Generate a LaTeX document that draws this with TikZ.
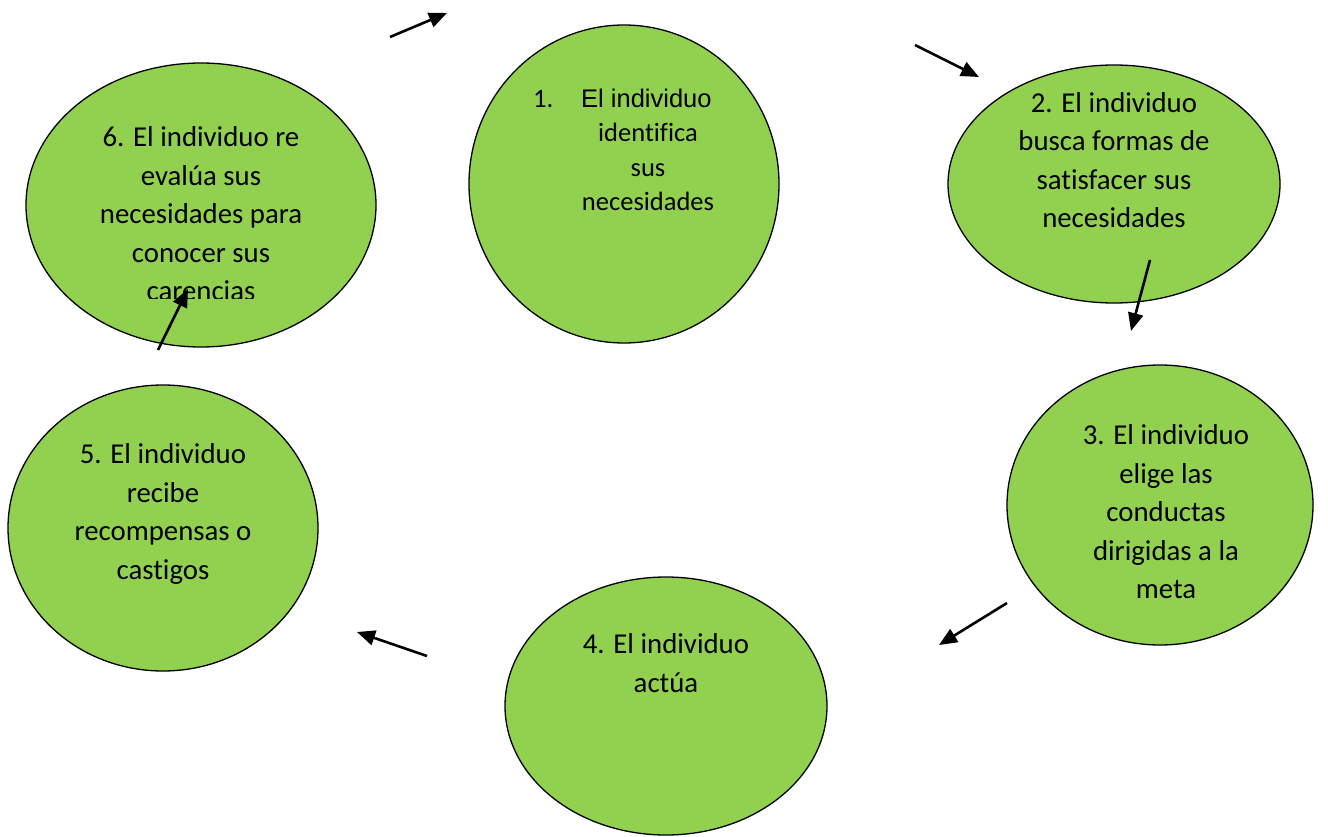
\documentclass[tikz,border=0pt]{standalone}
\usepackage{fontspec}
\setmainfont[RawFeature=-liga]{Carlito}
\newfontfamily\arialfont{Liberation Sans}
\usetikzlibrary{arrows.meta}
\definecolor{lgreen}{HTML}{92D050}
\begin{document}
\begin{tikzpicture}[x=1pt,y=-1pt,
  bubble/.style={draw=black,line width=1.3pt,fill=lgreen},
  txt/.style={align=center,font=\fontsize{28.8}{38.5}\selectfont,inner sep=0pt},
  txtsmall/.style={align=center,font=\fontsize{26.5}{34.5}\selectfont,inner sep=0pt},
  arr/.style={line width=2.6pt,-{Triangle[length=18pt,width=15pt]}}]
\useasboundingbox (0,0) rectangle (1328,837);
% ellipses
\draw[bubble] (624,184) ellipse [x radius=155,y radius=159];
\draw[bubble] (1114,184) ellipse [x radius=166,y radius=119];
\draw[bubble] (1160,505) ellipse [x radius=153,y radius=140];
\draw[bubble] (666,706) ellipse [x radius=161,y radius=129];
\draw[bubble] (163,528) ellipse [x radius=155,y radius=143];
\draw[bubble] (201,205) ellipse [x radius=175,y radius=142];
% texts
\node[font=\fontsize{26.5}{30}\selectfont,anchor=base west,inner sep=0pt] (t1n) at (533,108) {1.};
\node[font=\arialfont\fontsize{25.5}{30}\selectfont,anchor=base west,inner sep=0pt] (t1a) at (581,108) {El individuo};
\node[txtsmall] (t1) at (648,167) {identifica\\sus\\necesidades};
\node[txt] (t2) at (1114,160) {2. El individuo\\busca formas de\\satisfacer sus\\necesidades};
\node[txt] (t3) at (1166,512) {3. El individuo\\elige las\\conductas\\dirigidas a la\\meta};
\node[txt] (t4) at (666,663) {4. El individuo\\actúa};
\node[txt] (t5) at (163,514) {5. El individuo\\recibe\\recompensas o\\castigos};
\begin{scope}
\clip (0,0) rectangle (1328,298);
\node[txt] (t6) at (201,214) {6. El individuo re\\evalúa sus\\necesidades para\\conocer sus\\carencias};
\end{scope}
% arrows
\coordinate (a1s) at (390,37); \coordinate (a1e) at (447,13);
\coordinate (a2s) at (915,45); \coordinate (a2e) at (979,77);
\coordinate (a3s) at (1150,260); \coordinate (a3e) at (1131,331);
\coordinate (a4s) at (1007,603); \coordinate (a4e) at (939,645);
\coordinate (a5s) at (427,656); \coordinate (a5e) at (357,632);
\coordinate (a6s) at (158,350); \coordinate (a6e) at (188,289);
\draw[arr] (a1s) -- (a1e);
\draw[arr] (a2s) -- (a2e);
\draw[arr] (a3s) -- (a3e);
\draw[arr] (a4s) -- (a4e);
\draw[arr] (a5s) -- (a5e);
\draw[arr] (a6s) -- (a6e);
\end{tikzpicture}
\end{document}
